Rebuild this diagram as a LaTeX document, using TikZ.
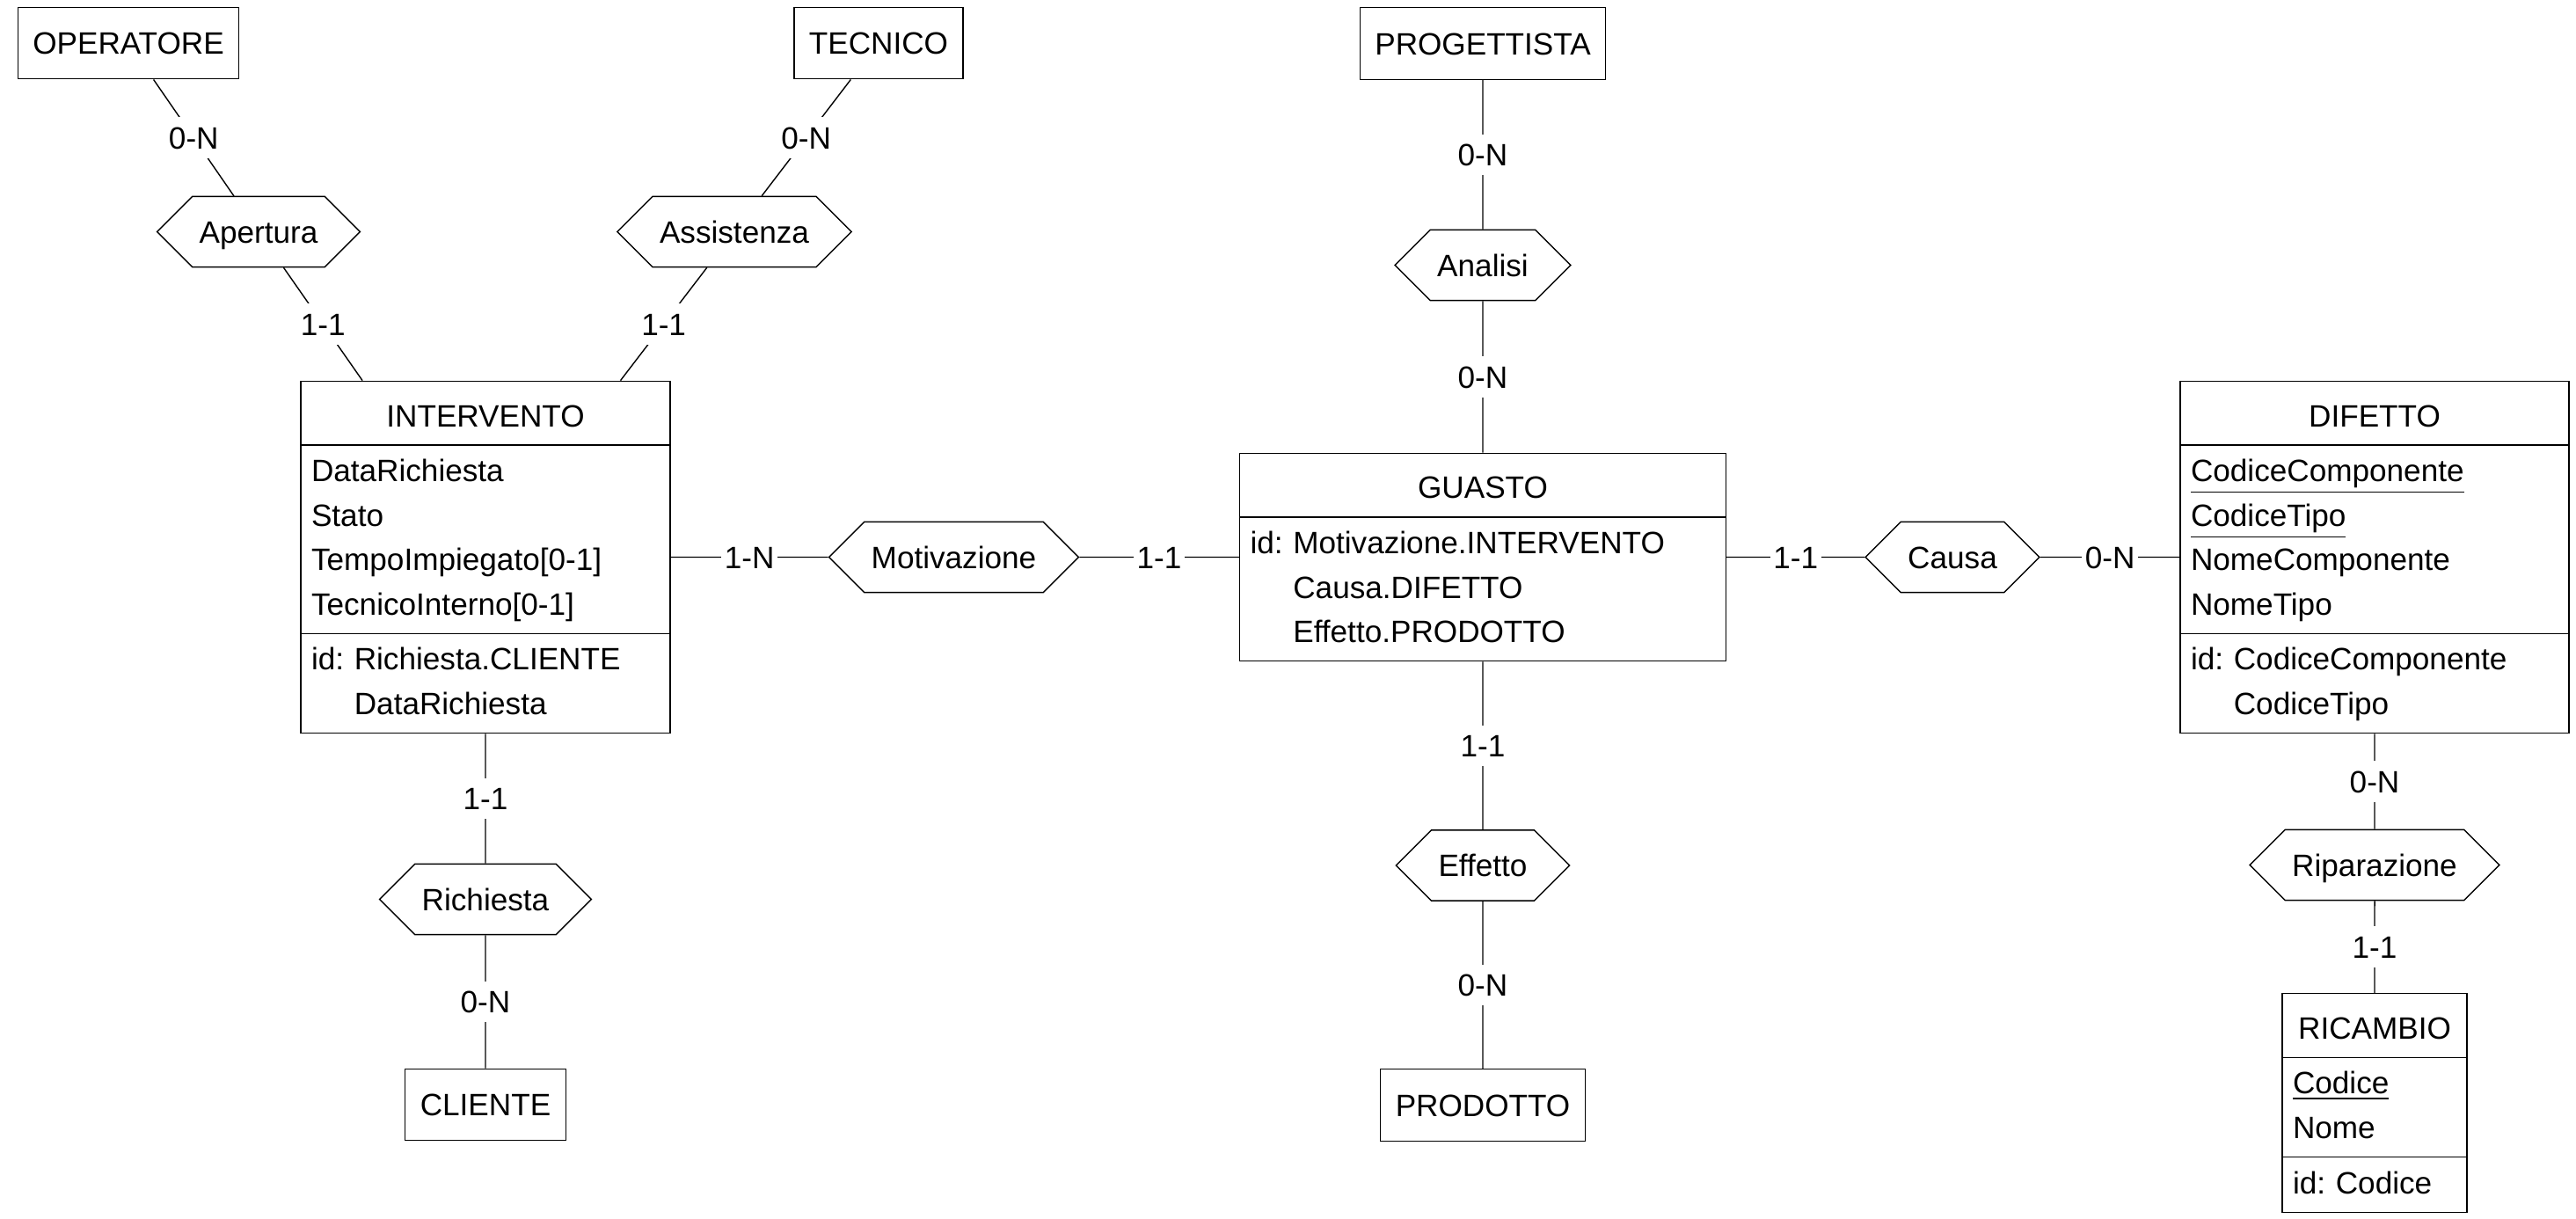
\documentclass[tikz,border=0pt]{standalone}
\usepackage{fontspec}
\setmainfont{Liberation Sans}
\usetikzlibrary{shapes.symbols,shapes.multipart}

\newcommand{\headstrut}{\rule[-4.3pt]{0pt}{17.3pt}}

\tikzset{
  entity/.style={draw, rectangle, inner xsep=0.17cm, inner ysep=8pt,
    text height=7.2pt, text depth=0pt},
  attrentity/.style={draw, rectangle split, rectangle split parts=3,
    inner xsep=0.12cm, inner ysep=1.5pt, align=left},
  relation/.style={draw, signal, signal to=west and east,
    signal pointer angle=90, inner xsep=0.08cm, inner ysep=7.8pt,
    text height=7.2pt, text depth=0pt, fill=white},
  card/.style={fill=white, inner xsep=1pt, inner ysep=3pt,
    text height=7.2pt, text depth=0pt}
}

\begin{document}
\begin{tikzpicture}[font=\fontsize{10pt}{14.4pt}\selectfont\frenchspacing]
      \useasboundingbox (0,0) rectangle (29.29,-13.85);
      \draw
        (1.46,-0.49) node[entity] (operatore){OPERATORE}
        (9.99,-0.49) node[entity] (tecnico){TECNICO}
        (16.86,-0.495) node[entity] (progettista){PROGETTISTA}
        (5.52,-12.56) node[entity] (cliente){CLIENTE}
        (16.86,-12.565) node[entity] (prodotto){PRODOTTO};
      \draw
        (5.52,-6.335) node[attrentity, text width=3.96cm] (intervento){%
          \hbox to\hsize{\hfil\headstrut INTERVENTO\hfil}
          \nodepart{two}\strut DataRichiesta\\Stato\\TempoImpiegato[0-1]\\TecnicoInterno[0-1]\strut
          \nodepart{three}\strut id: Richiesta.CLIENTE\\\phantom{id: }DataRichiesta\strut}
        (16.86,-6.335) node[attrentity, rectangle split parts=2, text width=5.29cm] (guasto){%
          \hbox to\hsize{\hfil\headstrut GUASTO\hfil}
          \nodepart{two}\strut id: Motivazione.INTERVENTO\\\phantom{id: }Causa.DIFETTO\\\phantom{id: }Effetto.PRODOTTO\strut}
        (27.00,-6.335) node[attrentity, text width=4.18cm] (difetto){%
          \hbox to\hsize{\hfil\headstrut DIFETTO\hfil}
          \nodepart{two}\strut\underline{CodiceComponente}\\\underline{CodiceTipo}\\NomeComponente\\NomeTipo\strut
          \nodepart{three}\strut id: CodiceComponente\\\phantom{id: }CodiceTipo\strut}
        (27.00,-12.54) node[attrentity, text width=1.86cm] (ricambio){%
          \hbox to\hsize{\hfil\headstrut RICAMBIO\hfil}
          \nodepart{two}\strut\underline{Codice}\\Nome\strut
          \nodepart{three}\strut id: Codice\strut};
      \draw
        (2.94,-2.635) node[relation] (apertura){Apertura}
        (8.35,-2.635) node[relation] (assistenza){Assistenza}
        (5.52,-10.225) node[relation] (richiesta){Richiesta}
        (10.845,-6.335) node[relation] (motivazione){Motivazione}
        (16.86,-3.015) node[relation] (analisi){Analisi}
        (16.86,-9.84) node[relation] (effetto){Effetto}
        (22.20,-6.335) node[relation] (causa){Causa}
        (27.00,-9.835) node[relation] (riparazione){Riparazione};
      \begin{scope}[-]
        \draw (operatore) to node[card]{0-N} (apertura);
        \draw (apertura) to node[card]{1-1} (intervento);
        \draw (tecnico) to node[card]{0-N} (assistenza);
        \draw (assistenza) to node[card]{1-1} (intervento);
        \draw (intervento) to node[card]{1-1} (richiesta);
        \draw (richiesta) to node[card]{0-N} (cliente);
        \draw (intervento) to node[card]{1-N} (motivazione);
        \draw (motivazione) to node[card]{1-1} (guasto);
        \draw (progettista) to node[card]{0-N} (analisi);
        \draw (analisi) to node[card]{0-N} (guasto);
        \draw (guasto) to node[card]{1-1} (effetto);
        \draw (effetto) to node[card]{0-N} (prodotto);
        \draw (guasto) to node[card]{1-1} (causa);
        \draw (causa) to node[card]{0-N} (difetto);
        \draw (difetto) to node[card]{0-N} (riparazione);
        \draw (riparazione) to node[card]{1-1} (ricambio);
      \end{scope}
    \end{tikzpicture}
\end{document}
